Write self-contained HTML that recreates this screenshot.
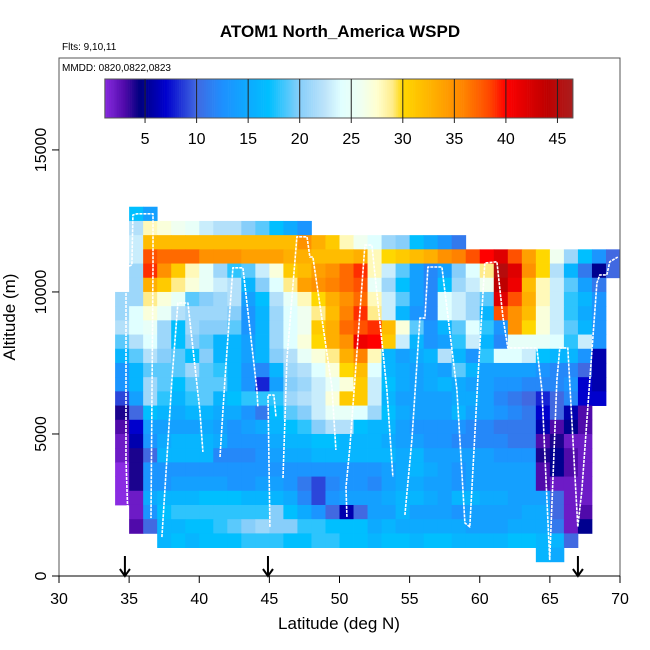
<!DOCTYPE html>
<html><head><meta charset="utf-8">
<style>
html,body{margin:0;padding:0;background:#fff;}
svg{display:block;font-family:"Liberation Sans",Arial,sans-serif;}
</style></head>
<body>
<svg id="chart" width="650" height="650" viewBox="0 0 650 650" xmlns="http://www.w3.org/2000/svg">
  <rect x="0" y="0" width="650" height="650" fill="#fff"/>
  <text x="340" y="37" text-anchor="middle" font-size="17" font-weight="bold">ATOM1 North_America WSPD</text>
  <text x="62" y="50" font-size="10">Flts: 9,10,11</text>
  <g id="heat"></g>
  <g id="track"></g>
  <rect x="59" y="58" width="561" height="518" fill="none" stroke="#555" stroke-width="1"/>
  <text x="62" y="71" font-size="10">MMDD: 0820,0822,0823</text>
  <g id="cbar"></g>
  <g id="xaxis"></g>
  <g id="yaxis"></g>
  <g id="arrows"></g>
  <text x="339" y="629" text-anchor="middle" font-size="17">Latitude (deg N)</text>
  <text x="0" y="0" transform="translate(15,317) rotate(-90)" text-anchor="middle" font-size="17">Altitude (m)</text>
</svg>
<script>
const _ = null;
// column left-edge latitudes 34..69, row top altitudes 13000 down by 500
const latStart = 34;
const rowTopAlt = 13000;
const rowStep = 500;
const wspd = [
[_,17,14,_,_,_,_,_,_,_,_,_,_,_,_,_,_,_,_,_,_,_,_,_,_,_,_,_,_,_,_,_,_,_,_,_],
[_,22,28,27,26,25,23,22,22,20,19,17,15,13,_,_,_,_,_,_,_,_,_,_,_,_,_,_,_,_,_,_,_,_,_,_],
[_,23,32,32,32,32,32,32,32,32,32,32,32,35,33,31,28,26,24,21,20,17,15,13,11,_,_,_,_,_,_,_,_,_,_,_],
[_,23,38,37,37,37,35,35,35,34,34,34,33,33,32,32,32,33,28,30,31,32,33,35,36,38,40,42,38,34,30,26,21,17,13,10],
[_,21,39,35,31,28,25,21,18,19,23,27,31,32,34,35,37,39,28,23,19,14,12,14,20,24,29,45,42,35,30,22,16,11,5,10],
[_,21,33,31,29,27,25,23,22,16,20,24,29,34,35,36,37,38,25,21,17,14,12,17,21,23,26,44,41,32,28,23,19,14,11,_],
[21,21,29,27,25,19,20,21,22,14,17,22,25,28,30,33,35,37,28,23,19,14,12,24,23,21,19,42,38,33,28,23,18,16,13,_],
[21,24,27,25,22,21,21,21,20,13,16,21,24,26,29,32,36,39,29,23,16,13,12,24,23,21,16,38,35,32,27,23,18,15,13,_],
[22,24,25,21,17,21,20,20,19,13,16,21,24,26,31,33,37,38,39,32,27,19,13,16,19,24,18,13,35,30,27,23,19,16,13,_],
[19,22,24,21,17,20,19,16,16,14,16,21,24,27,30,33,35,41,40,31,23,16,13,14,18,23,16,12,25,25,25,24,18,23,13,_],
[16,19,22,20,19,17,20,16,16,14,16,20,22,25,27,29,33,36,28,16,14,15,16,22,16,13,18,24,24,23,17,16,16,13,6,_],
[13,16,19,19,19,21,19,18,16,13,12,16,21,22,24,27,30,32,24,16,15,14,15,14,19,16,14,14,14,14,13,12,12,10,6,_],
[13,16,21,19,17,19,19,19,16,13,8,14,20,21,23,25,27,31,23,17,15,14,15,16,15,14,14,13,13,12,12,12,13,7,6,_],
[9,14,21,18,16,18,19,16,17,18,18,18,21,22,23,27,31,31,23,16,14,14,14,14,15,15,14,12,11,10,8,10,12,7,7,_],
[4,10,17,16,15,16,16,15,15,13,11,17,19,20,23,25,25,24,21,17,15,14,14,14,16,14,14,13,12,11,7,10,6,3,_,_],
[3,7,14,14,14,14,15,14,13,14,15,16,17,18,20,22,22,17,16,16,14,13,13,13,13,12,12,11,11,11,6,3,5,3,_,_],
[2,6,13,15,16,16,16,15,13,13,13,15,16,16,17,17,16,16,16,15,14,14,13,13,12,12,12,12,11,11,3,4,2,2,_,_],
[2,4,10,16,16,16,16,12,12,12,13,14,15,15,16,16,16,16,16,16,15,16,14,14,14,14,14,13,13,13,4,5,3,2,_,_],
[1,4,13,13,13,13,13,13,13,13,13,13,13,13,13,13,13,13,13,14,15,16,15,14,13,14,14,14,14,14,3,5,3,2,_,_],
[1,4,13,13,14,14,14,14,13,13,14,14,13,11,9,12,13,13,12,14,15,15,14,14,13,14,14,14,14,14,3,2,2,2,_,_],
[1,2,15,16,16,16,17,17,17,16,16,16,15,12,9,13,14,14,14,15,16,16,15,14,16,16,15,15,14,14,14,10,2,2,_,_],
[_,2,13,17,18,18,18,18,18,18,18,20,17,15,13,10,6,10,14,14,16,14,14,14,13,14,14,14,14,15,15,10,2,3,_,_],
[_,3,10,16,16,17,17,18,19,20,21,20,20,18,18,17,17,17,15,16,15,15,15,15,15,14,14,14,15,15,15,11,2,5,_,_],
[_,_,_,16,17,16,17,17,17,18,18,18,17,17,18,18,17,17,16,17,17,16,17,17,16,16,16,16,17,17,16,16,10,_,_,_],
[_,_,_,_,_,_,_,_,_,_,_,_,_,_,_,_,_,_,_,_,_,_,_,_,_,_,_,_,_,_,16,15,_,_,_,_]
];
// flight track segments: latitude and altitude (m)
const trackLat = [
[34.92,34.78,34.78,35.2,35.27,35.56,36.7,36.7,36.56],
[37.34,38.05,38.48,39.19,40.05,40.26],
[41.48,41.83,42.4,43.11,44.11,44.18],
[45.04,44.9,45.32,45.47],
[45.97,46.25,46.96,47.68,47.89,48.1,49.46,49.74],
[50.53,50.46,50.74,51.81,52.31,53.38,53.81],
[54.66,55.16,55.73,56.09,56.3,57.3,58.37,58.94,59.29,59.86,60.36,61.22,61.65,62.0,64.07,64.43,64.99,65.5,65.71,66.28,66.99,67.28,67.85,68.35,68.56,69.06,69.27,69.84]
];
const trackAlt = [
[1970,4080,10880,10950,12710,12750,12750,10950,2040],
[1370,6900,9610,9610,5770,4370],
[4190,6900,10850,10850,6550,5950],
[1730,6370,6370,5600],
[3450,7610,11940,11940,11230,11230,6650,4440],
[2080,3130,4540,11650,11650,6550,3490],
[2150,4790,9080,9080,10880,10880,6550,1870,1730,6900,11020,11060,9120,8030,8030,6550,560,6900,8030,8030,1730,3030,6900,10320,10600,10600,11060,11230]
];
const flightLats = [34.7, 44.9, 67.0];
const xTicks = [30,35,40,45,50,55,60,65,70];
const yTicks = [0,5000,10000,15000];
const cbarTicks = [5,10,15,20,25,30,35,40,45];
const cbarMin = 1.1, cbarMax = 46.5;

const NS = "http://www.w3.org/2000/svg";
function x(lat){ return 59 + (lat-30)*14.025; }
function y(alt){ return 576 - alt*0.028405; }
function cx(v){ return 93.5 + v*10.31; }

const stops = [
[1,[138,43,226]],[3,[80,10,170]],[4.5,[0,0,128]],[7,[0,0,205]],[10,[65,105,225]],
[12.5,[30,144,255]],[17,[0,191,255]],[20,[135,206,250]],[22.5,[190,228,250]],
[24,[224,255,255]],[26,[240,255,240]],[27.5,[255,255,208]],[29,[255,236,139]],
[30,[255,215,0]],[33,[255,175,0]],[36,[255,130,0]],[38.5,[255,69,0]],[40,[255,0,0]],
[44,[190,0,0]],[46.5,[170,30,30]]
];
function col(v){
  if(v<=stops[0][0]) return "rgb("+stops[0][1].join(",")+")";
  for(let i=1;i<stops.length;i++){
    if(v<=stops[i][0]){
      const a=stops[i-1],b=stops[i],t=(v-a[0])/(b[0]-a[0]);
      const c=a[1].map((q,k)=>Math.round(q+(b[1][k]-q)*t));
      return "rgb("+c.join(",")+")";
    }
  }
  return "rgb("+stops[stops.length-1][1].join(",")+")";
}
function mk(tag,attrs,parent){
  const e=document.createElementNS(NS,tag);
  for(const k in attrs) e.setAttribute(k,attrs[k]);
  parent.appendChild(e); return e;
}

// heatmap
const heat=document.getElementById("heat");
wspd.forEach((row,j)=>{
  const top=rowTopAlt-rowStep*j, bot=top-rowStep;
  row.forEach((v,i)=>{
    if(v===null) return;
    const x0=x(latStart+i), x1=x(latStart+i+1);
    const r=mk("rect",{x:x0,y:y(top),width:x1-x0+0.4,height:y(bot)-y(top)+0.4,fill:col(v)},heat);
    
    
  });
});

// track
const track=document.getElementById("track");
trackLat.forEach((lats,s)=>{
  const pts=lats.map((la,k)=>x(la).toFixed(1)+","+y(trackAlt[s][k]).toFixed(1)).join(" ");
  const p=mk("polyline",{points:pts,fill:"none",stroke:"#fff","stroke-width":"1.6","stroke-dasharray":"3,1","stroke-linejoin":"round"},track);
  
  
});

// colorbar
const cb=document.getElementById("cbar");
for(let v=cbarMin; v<cbarMax; v+=0.2){
  const r=mk("rect",{x:cx(v),y:79,width:10.31*0.2+0.3,height:39,fill:col(v+0.1)},cb);
  
  
}
const cbf=mk("rect",{x:cx(cbarMin),y:79,width:cx(cbarMax)-cx(cbarMin),height:39,fill:"none",stroke:"#555","stroke-width":"1"},cb);


cbarTicks.forEach(t=>{
  const l=mk("line",{x1:cx(t),x2:cx(t),y1:79,y2:123,stroke:"#222","stroke-width":"1"},cb);
  
  
  const tx=mk("text",{x:cx(t),y:144,"text-anchor":"middle","font-size":"16"},cb);
  tx.textContent=t;
  
  
});

// axes
const xa=document.getElementById("xaxis");
const xl=mk("line",{x1:x(30),x2:x(70),y1:576,y2:576,stroke:"#000","stroke-width":"1"},xa);


xTicks.forEach(t=>{
  const l=mk("line",{x1:x(t),x2:x(t),y1:576,y2:583,stroke:"#000"},xa);
  
  
  const tx=mk("text",{x:x(t),y:604,"text-anchor":"middle","font-size":"16"},xa);
  tx.textContent=t;
  
  
});
const ya=document.getElementById("yaxis");
yTicks.forEach(t=>{
  const l=mk("line",{x1:52,x2:59,y1:y(t),y2:y(t),stroke:"#000"},ya);
  
  
  const tx=mk("text",{x:0,y:0,transform:"translate(46,"+y(t)+") rotate(-90)","text-anchor":"middle","font-size":"16"},ya);
  tx.textContent=t;
  
  
});

// flight arrows
const ar=document.getElementById("arrows");
flightLats.forEach(la=>{
  const g=mk("path",{d:"M"+x(la)+",556 L"+x(la)+",576 M"+(x(la)-5)+",569 L"+x(la)+",576 L"+(x(la)+5)+",569",fill:"none",stroke:"#000","stroke-width":"2"},ar);
  
  
});
</script>
</body></html>
